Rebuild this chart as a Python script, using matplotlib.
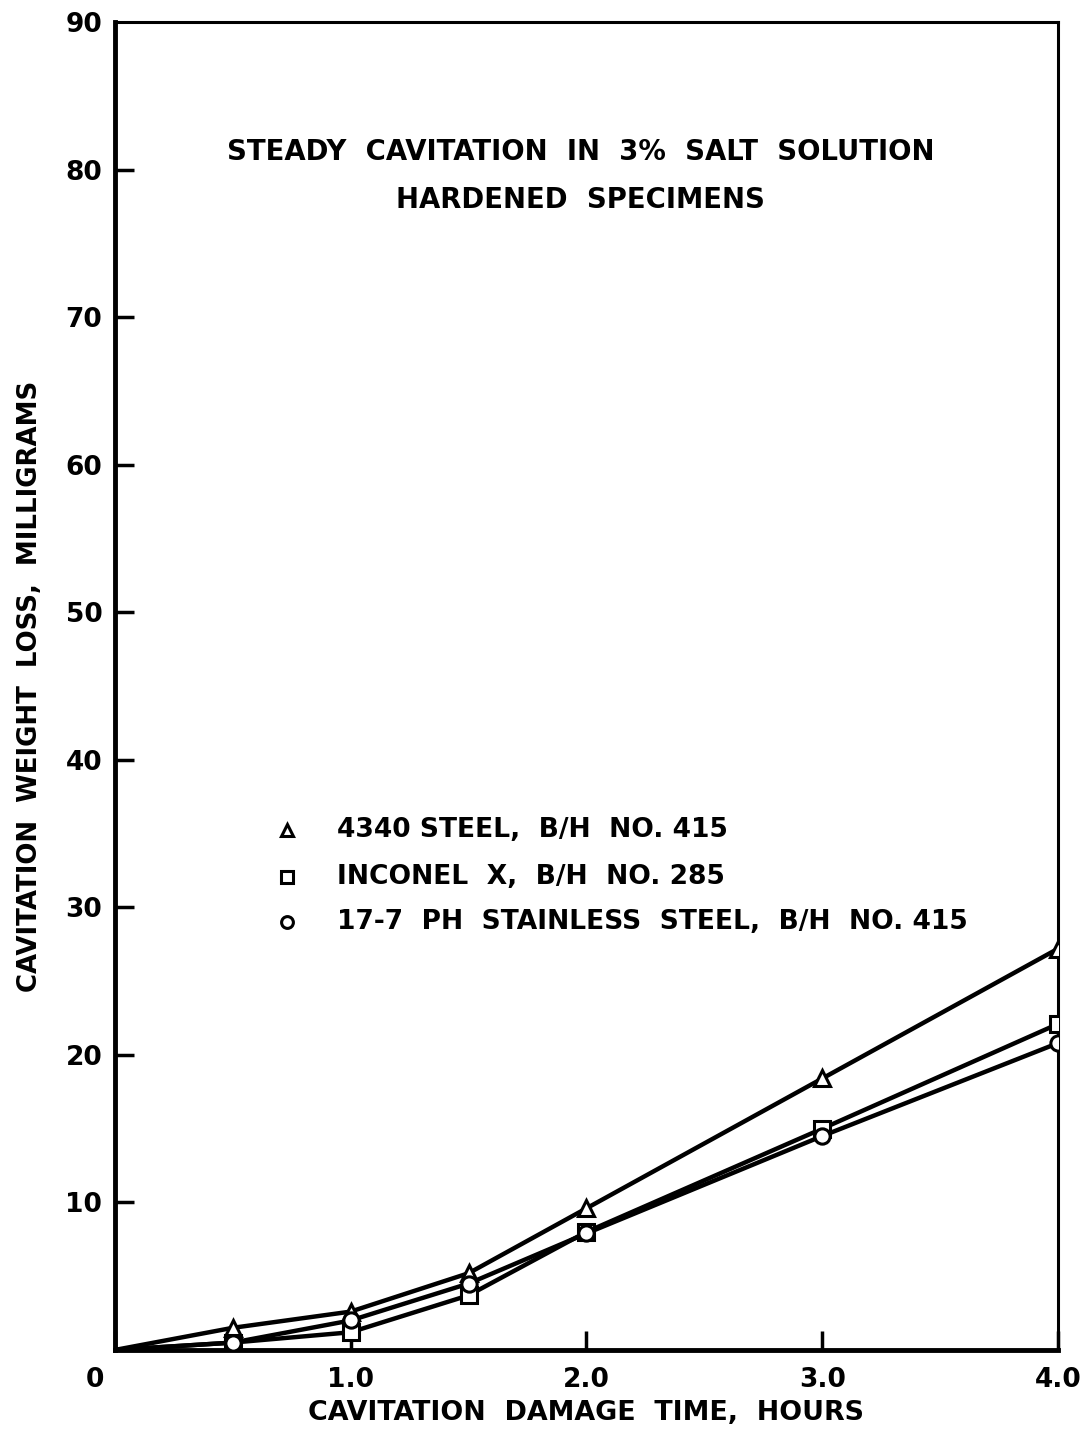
import matplotlib
matplotlib.use("Agg")
import matplotlib.pyplot as plt
import matplotlib.transforms as mtransforms

# ---- data ----
hours = [0, 0.5, 1.0, 1.5, 2.0, 3.0, 4.0]
steel_4340 = [0, 1.5, 2.6, 5.2, 9.6, 18.4, 27.2]
inconel_x = [0, 0.5, 1.2, 3.7, 8.0, 15.0, 22.1]
ph_17_7 = [0, 0.5, 2.0, 4.5, 7.9, 14.5, 20.8]
series_labels = ["4340 STEEL,  B/H  NO. 415",
                 "INCONEL  X,  B/H  NO. 285",
                 "17-7  PH  STAINLESS  STEEL,  B/H  NO. 415"]
series_markers = ["^", "s", "o"]
xticks = [0, 1.0, 2.0, 3.0, 4.0]
xticklabels = ["0", "1.0", "2.0", "3.0", "4.0"]
yticks = [10, 20, 30, 40, 50, 60, 70, 80, 90]
yticklabels = ["10", "20", "30", "40", "50", "60", "70", "80", "90"]
title_lines = ["STEADY  CAVITATION  IN  3%  SALT  SOLUTION", "HARDENED  SPECIMENS"]

plt.rcParams['font.family'] = ['DejaVu Sans']
plt.rcParams['font.weight'] = 'bold'

fig = plt.figure(figsize=(10.83, 14.34), dpi=100)
ax = fig.add_axes([0.106, 0.0586, 0.871, 0.926])

for ys, m in zip([steel_4340, inconel_x, ph_17_7], series_markers):
    ax.plot(hours, ys, color="black", lw=3.2, marker=m, markevery=list(range(1, len(hours))),
            markersize=11.5 if m != "o" else 11, markerfacecolor="white", markeredgecolor="black",
            markeredgewidth=2.2, zorder=3)

ax.set_xlim(0, 4.0)
ax.set_ylim(0, 90)
ax.set_xticks(xticks)
ax.set_xticklabels(xticklabels)
ax.set_yticks(yticks)
ax.set_yticklabels(yticklabels)
ax.tick_params(direction="in", length=14, width=2.5, labelsize=19, pad=12)
ax.tick_params(axis="y", pad=9)
ax.yaxis.get_major_ticks()[-1].tick1line.set_visible(False)
for lab in ax.get_xticklabels():
    lab.set_fontweight("bold")
for lab in ax.get_yticklabels():
    lab.set_fontweight("bold")
# shift "0" label left
off = mtransforms.ScaledTranslation(-20/100, 0, fig.dpi_scale_trans)
lab0 = ax.get_xticklabels()[0]
lab0.set_transform(lab0.get_transform() + off)

ax.spines["left"].set_linewidth(3.5)
ax.spines["bottom"].set_linewidth(3.5)
ax.spines["top"].set_linewidth(2.2)
ax.spines["right"].set_linewidth(2.2)

ax.set_xlabel("CAVITATION  DAMAGE  TIME,  HOURS", fontsize=19.4, fontweight="bold", labelpad=5)
ax.set_ylabel("CAVITATION  WEIGHT  LOSS,  MILLIGRAMS", fontsize=18.7, fontweight="bold", labelpad=16)

ax.text(0.494, 0.902, title_lines[0], transform=ax.transAxes, ha="center", va="center",
        fontsize=19.8, fontweight="bold")
ax.text(0.494, 0.866, title_lines[1], transform=ax.transAxes, ha="center", va="center",
        fontsize=19.8, fontweight="bold")

leg_y = [0.3916, 0.356, 0.322]
for lab, m, yy in zip(series_labels, series_markers, leg_y):
    ax.plot([0.183], [yy], marker=m, transform=ax.transAxes, markersize=9 if m != "o" else 8.5,
            markerfacecolor="white", markeredgecolor="black", markeredgewidth=2.2, ls="none")
    ax.text(0.236, yy, lab, transform=ax.transAxes, ha="left", va="center",
            fontsize=19.1, fontweight="bold")

fig.savefig("out.png", dpi=100)
